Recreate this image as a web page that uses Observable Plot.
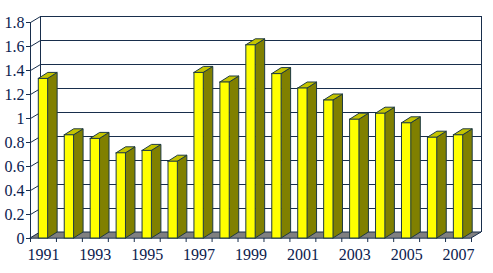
<!DOCTYPE html>
<html>
<head>
<meta charset="utf-8">
<script src="https://cdn.jsdelivr.net/npm/d3@7"></script>
<script src="https://cdn.jsdelivr.net/npm/@observablehq/plot@0.6"></script>
<style>
  html, body { margin: 0; padding: 0; background: #ffffff; }
  #chart svg { display: block; }
  #chart svg text { font-family: "Liberation Serif", "Times New Roman", serif !important; }
</style>
</head>
<body>
<div id="chart"></div>
<script>
// ---- data ----
const years = [1991, 1992, 1993, 1994, 1995, 1996, 1997, 1998, 1999, 2000, 2001, 2002, 2003, 2004, 2005, 2006, 2007];
const values = [1.33, 0.86, 0.83, 0.71, 0.73, 0.64, 1.38, 1.30, 1.61, 1.37, 1.25, 1.15, 0.99, 1.04, 0.96, 0.84, 0.86];
const xLabels = ["1991", "1993", "1995", "1997", "1999", "2001", "2003", "2005", "2007"];
const yTicks = [0, 0.2, 0.4, 0.6, 0.8, 1, 1.2, 1.4, 1.6, 1.8];

// ---- layout / style ----
const W = 493, H = 273;
const mL = 30, mR = 22, mT = 22, mB = 35;
const n = years.length;
const xUnit = (W - mL - mR) / n;           // px per category
const yUnit = (H - mT - mB) / 1.8;         // px per value unit
const DDX = 10 / xUnit, DDY = 6 / yUnit;   // chart depth in data units
const BDX = 9.5 / xUnit, BDY = 6 / yUnit;  // bar depth in data units
const B0 = 0.32, B1 = 0.68;                // bar front face inside band

const lineC = "#182e4c";
const textC = "#0b214e";
const outline = "#1e3a40";
const serif = "Liberation Serif";

const bars = years.map((yr, i) => ({i, yr, v: values[i]}));
const sides = bars.flatMap(d => [
  {z: d.i, x: d.i + B1, y1: 0, y2: d.v},
  {z: d.i, x: d.i + B1 + BDX, y1: BDY, y2: d.v + BDY}
]);
const tops = bars.flatMap(d => [
  {z: d.i, y: d.v, x1: d.i + B0, x2: d.i + B1},
  {z: d.i, y: d.v + BDY, x1: d.i + B0 + BDX, x2: d.i + B1 + BDX}
]);
const floor = [
  {y: 0, x1: 0, x2: n},
  {y: DDY, x1: DDX, x2: n + DDX}
];
const labelData = xLabels.map(s => ({s, i: years.indexOf(+s)}));

const chart = Plot.plot({
  width: W, height: H,
  marginLeft: mL, marginRight: mR, marginTop: mT, marginBottom: mB,
  x: {domain: [0, n], axis: null},
  y: {domain: [0, 1.8], axis: null},
  style: {fontFamily: serif, background: "#ffffff"},
  marks: [
    // back wall gridlines
    Plot.ruleY(yTicks, {y: d => d + DDY, x1: DDX, x2: n + DDX, stroke: lineC, strokeWidth: 1}),
    // left wall diagonals
    Plot.link(yTicks, {x1: 0, y1: d => d, x2: DDX, y2: d => d + DDY, stroke: lineC, strokeWidth: 1}),
    // wall edges
    Plot.ruleX([DDX], {y1: DDY, y2: 1.8 + DDY, stroke: lineC}),
    Plot.ruleX([n + DDX], {y1: DDY, y2: 1.8 + DDY, stroke: lineC}),
    // floor
    Plot.areaX(floor, {y: "y", x1: "x1", x2: "x2", fill: "#808080", stroke: lineC, strokeWidth: 1, curve: "linear"}),
    // front y axis
    Plot.ruleX([0], {y1: 0, y2: 1.8, stroke: lineC}),
    Plot.ruleY(yTicks, {y: d => d, x1: -4 / xUnit, x2: 0, stroke: lineC}),
    // x ticks
    Plot.ruleX(d3.range(n + 1), {x: d => d, y1: 0, y2: -4 / yUnit, stroke: lineC}),
    // bars: side, top, front
    Plot.areaY(sides, {x: "x", y1: "y1", y2: "y2", z: "z", fill: "#808000", stroke: outline, strokeWidth: 1, curve: "linear"}),
    Plot.areaX(tops, {y: "y", x1: "x1", x2: "x2", z: "z", fill: "#c4c400", stroke: outline, strokeWidth: 1, curve: "linear"}),
    Plot.rect(bars, {x1: d => d.i + B0, x2: d => d.i + B1, y1: 0, y2: "v", fill: "#ffff00", stroke: outline, strokeWidth: 1}),
    // labels
    Plot.text(yTicks, {x: 0, y: d => d, text: d => String(d), textAnchor: "end", dx: -6, fill: textC, fontSize: 16, fontFamily: serif}),
    Plot.text(labelData, {x: d => d.i + 0.5, y: 0, text: "s", dy: 16, fill: textC, fontSize: 16, fontFamily: serif})
  ]
});
document.getElementById("chart").appendChild(chart);
</script>
</body>
</html>
